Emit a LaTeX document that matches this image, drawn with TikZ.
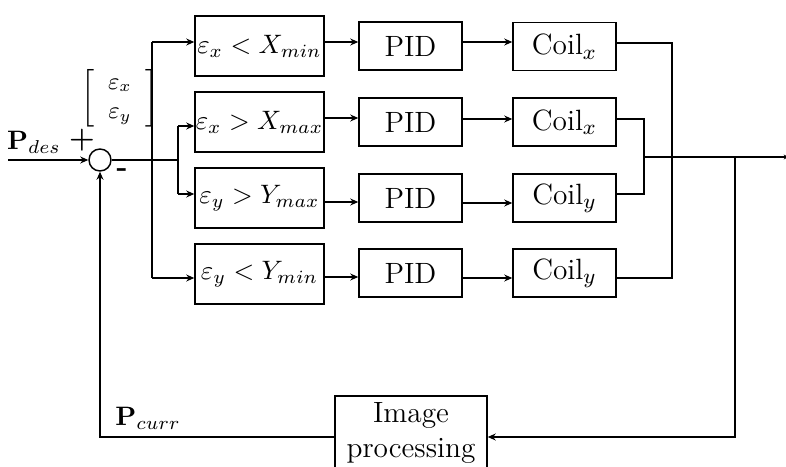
\documentclass[tikz,border=0pt]{standalone}
\usepackage{amsmath}
\usetikzlibrary{arrows.meta}
\begin{document}
\begin{tikzpicture}[x=0.375pt,y=-0.375pt,line width=0.55pt,
  every node/.style={font=\fontsize{11}{13.2}\selectfont},
  block/.style={draw,inner sep=0pt,minimum height=48*0.375pt,minimum width=103*0.375pt},
  cond/.style={draw,inner sep=0pt,minimum height=60*0.375pt,minimum width=129*0.375pt,
    font=\fontsize{10.4}{12.5}\selectfont},
  sumnode/.style={draw,circle,inner sep=0pt,minimum size=22*0.375pt},
  arr/.style={-{Stealth[length=3pt,width=2.6pt]}}]
\clip (0,0) rectangle (786,467);

% summing junction
\node[sumnode] (s) at (100,160) {};

% threshold blocks
\node[cond] (c1) at (259.5,46)  {$\varepsilon_x < X_{min}$};
\node[cond] (c2) at (259.5,122) {$\varepsilon_x > X_{max}$};
\node[cond] (c3) at (259.5,198) {$\varepsilon_y > Y_{max}$};
\node[cond] (c4) at (259.5,274) {$\varepsilon_y < Y_{min}$};

% controllers
\node[block] (p1) at (410.5,46)  {PID};
\node[block] (p2) at (410.5,122) {PID};
\node[block] (p3) at (410.5,198) {PID};
\node[block] (p4) at (410.5,273) {PID};

% actuators
\node[block] (k1) at (564.5,46.5) {Coil$_x$};
\node[block] (k2) at (564.5,122)  {Coil$_x$};
\node[block] (k3) at (564.5,198)  {Coil$_y$};
\node[block] (k4) at (564.5,273)  {Coil$_y$};

% vision feedback
\node[draw,align=center,inner sep=0pt,minimum width=152*0.375pt,minimum height=74*0.375pt]
  (ip) at (411,433) {Image\\processing};

% labels
\node[font=\fontsize{10}{12}\selectfont] (pdes)  at (34,142)  {$\mathbf{P}_{des}$};
\node (plus)  at (82,140)  {\textbf{+}};
\node (minus) at (122,173) {\textbf{-}};
\node[font=\fontsize{9}{11}\selectfont] (err) at (120,98)
  {$\left[\begin{array}{c}\varepsilon_x\\ \varepsilon_y\end{array}\right]$};
\node[font=\fontsize{10}{12}\selectfont] (pcurr) at (148,418) {$\mathbf{P}_{curr}$};

% routing points
\coordinate (in)  at (8,160);
\coordinate (bA1) at (152,42);
\coordinate (bA4) at (152,278);
\coordinate (bB)  at (178,160);
\coordinate (bB2) at (178,126);
\coordinate (bB3) at (178,194);
\coordinate (L42) at (0,42);
\coordinate (L118) at (0,118);
\coordinate (L119) at (0,119);
\coordinate (L202) at (0,202);
\coordinate (L203) at (0,203);
\coordinate (L277) at (0,277);
\coordinate (L278) at (0,278);
\coordinate (jA1) at (672,43);
\coordinate (jA4) at (672,278);
\coordinate (jB2) at (644,119);
\coordinate (jB3) at (644,194);
\coordinate (jB)  at (644,157);
\coordinate (out) at (789,157);
\coordinate (fb)  at (735,157);
\coordinate (fbR) at (735,437);

% error distribution
\draw[arr] (in) -- (s.west);
\draw (s.east) -- (bB);
\draw (bA1) -- (bA4);
\draw (bB2) -- (bB3);
\draw[arr] (bA1) -- (c1.west |- bA1);
\draw[arr] (bB2) -- (c2.west |- bB2);
\draw[arr] (bB3) -- (c3.west |- bB3);
\draw[arr] (bA4) -- (c4.west |- bA4);

% forward paths
\draw[arr] (c1.east |- L42) -- (p1.west |- L42);
\draw[arr] (p1.east |- L42) -- (k1.west |- L42);
\draw[arr] (c2.east |- L118) -- (p2.west |- L118);
\draw[arr] (p2.east |- L119) -- (k2.west |- L119);
\draw[arr] (c3.east |- L202) -- (p3.west |- L202);
\draw[arr] (p3.east |- L203) -- (k3.west |- L203);
\draw[arr] (c4.east |- L277) -- (p4.west |- L277);
\draw[arr] (p4.east |- L278) -- (k4.west |- L278);

% combining the coil outputs
\draw (k1.east |- jA1) -- (jA1) -- (jA4) -- (k4.east |- jA4);
\draw (k2.east |- jB2) -- (jB2) -- (jB3) -- (k3.east |- jB3);
\draw[-{Stealth[length=2pt,width=1.8pt]}] (jB) -- (out);

% feedback loop
\draw[arr] (fb) -- (fbR) -- (ip.east |- fbR);
\draw[arr] (ip.west |- fbR) -| (s.south);
\end{tikzpicture}
\end{document}
